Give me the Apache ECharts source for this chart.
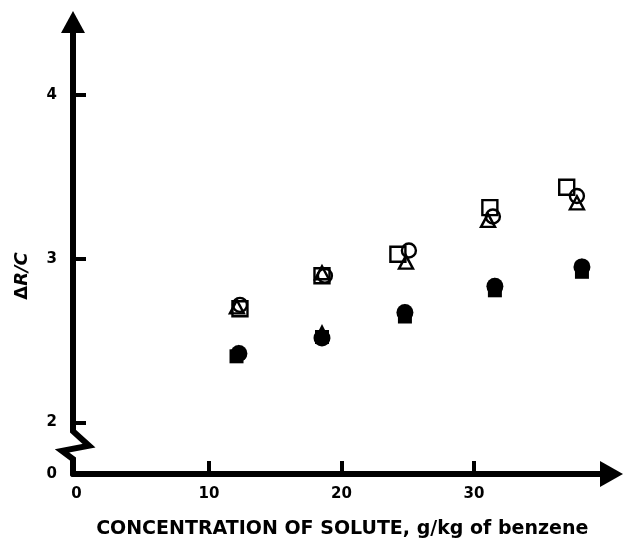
<!DOCTYPE html>
<html>
<head>
<meta charset="utf-8">
<script src="https://cdn.jsdelivr.net/npm/echarts@6/dist/echarts.min.js"></script>
<style>
html,body{margin:0;padding:0;background:#fff;}
#c{width:623px;height:544px;}
</style>
</head>
<body>
<div id="c"></div>
<script>
// Data: [concentration g/kg, ΔR/C]
const openSquare   = [[12.34, 2.694], [18.53, 2.896], [24.26, 3.027], [31.20, 3.312], [37.00, 3.436]];
const openCircle   = [[12.34, 2.718], [18.75, 2.896], [25.09, 3.050], [31.43, 3.258], [37.77, 3.383]];
const openTriangle = [[12.11, 2.706], [18.53, 2.914], [24.87, 2.979], [31.06, 3.234], [37.77, 3.341]];
const filledSquare   = [[12.08, 2.404], [18.53, 2.522], [24.79, 2.647], [31.58, 2.807], [38.15, 2.920]];
const filledCircle   = [[12.26, 2.421], [18.53, 2.516], [24.79, 2.671], [31.58, 2.831], [38.15, 2.950]];
const filledTriangle = [[12.26, 2.433], [18.53, 2.558], [24.79, 2.682], [31.58, 2.843], [38.15, 2.961]];

const xTickValues = [10, 20, 30];
const xLabelValues = [0, 10, 20, 30];
const yTickValues = [2, 3, 4];
const yBottom = 1.6855;       // axis is broken: bottom of axis is labelled 0
const yLabelValues = [yBottom, 2, 3, 4];
const xName = 'CONCENTRATION OF SOLUTE, g/kg of benzene';

const FONT = 'DejaVu Sans';
const chart = echarts.init(document.getElementById('c'), null, {renderer: 'canvas'});

const openStyle = {color: 'rgba(0,0,0,0)', borderColor: '#000', borderWidth: 2.4, opacity: 1};
const fillStyle = {color: '#000', opacity: 1};
const option = {
  animation: false,
  backgroundColor: '#fff',
  grid: {left: 73, right: 11.5, top: 22, bottom: 57},
  xAxis: {
    type: 'value', min: -0.26, max: 40.38,
    splitLine: {show: false},
    axisLine: {onZero: false, lineStyle: {color: '#000', width: 6}, symbol: ['none', 'triangle'], symbolSize: [26, 23]},
    axisTick: {inside: true, length: 13, lineStyle: {color: '#000', width: 4}, customValues: xTickValues},
    axisLabel: {customValues: xLabelValues, margin: 13, color: '#000', fontFamily: FONT, fontWeight: 'bold', fontSize: 15},
    name: xName, nameLocation: 'middle', nameGap: 46,
    nameTextStyle: {color: '#000', fontFamily: FONT, fontWeight: 'bold', fontSize: 19}
  },
  yAxis: {
    type: 'value', min: yBottom, max: 4.445,
    splitLine: {show: false},
    axisLine: {onZero: false, lineStyle: {color: '#000', width: 6}, symbol: ['none', 'triangle'], symbolSize: [24, 22]},
    axisTick: {inside: true, length: 13, lineStyle: {color: '#000', width: 4}, customValues: yTickValues},
    axisLabel: {customValues: yLabelValues, margin: 16, color: '#000', fontFamily: FONT, fontWeight: 'bold', fontSize: 15,
      formatter: v => (v < 1.9 ? '0' : String(Math.round(v)))},
    name: '{d|Δ}{i|R/C}', nameLocation: 'middle', nameRotate: 90, nameGap: 42,
    nameTextStyle: {padding: [0, 56, 0, 0], rich: {
      d: {color: '#000', fontFamily: FONT, fontWeight: 'bold', fontSize: 18},
      i: {color: '#000', fontFamily: FONT, fontWeight: 'bold', fontStyle: 'italic', fontSize: 18}
    }}
  },
  series: [
    {name: 'filled square', type: 'scatter', data: filledSquare, symbol: 'rect', symbolSize: 14, itemStyle: fillStyle},
    {name: 'filled triangle', type: 'scatter', data: filledTriangle, symbol: 'triangle', symbolSize: [14, 14], itemStyle: fillStyle},
    {name: 'filled circle', type: 'scatter', data: filledCircle, symbol: 'circle', symbolSize: 17, itemStyle: fillStyle},
    {name: 'open square', type: 'scatter', data: openSquare, symbol: 'rect', symbolSize: 15, itemStyle: openStyle},
    {name: 'open circle', type: 'scatter', data: openCircle, symbol: 'circle', symbolSize: 14, itemStyle: openStyle},
    {name: 'open triangle', type: 'scatter', data: openTriangle, symbol: 'triangle', symbolSize: [14, 13], itemStyle: openStyle}
  ]
};
chart.setOption(option);

// axis break (zig-zag) drawn between the "2" tick and the bottom of the y axis
const ax = chart.convertToPixel({xAxisIndex: 0}, -0.26);
const y2 = chart.convertToPixel({yAxisIndex: 0}, 2);
const y0 = chart.convertToPixel({yAxisIndex: 0}, yBottom);
const gap = y0 - y2;
const p = (dx, fy) => [ax + dx, y2 + gap * fy];
chart.setOption({
  graphic: [
    {type: 'rect', z: 100, shape: {x: ax - 5, y: y2 + gap * 0.16, width: 10, height: gap * 0.56}, style: {fill: '#fff'}},
    {type: 'polyline', z: 101, shape: {points: [p(0, 0.14), p(0, 0.17), p(16, 0.45), p(-11, 0.55), p(0, 0.71), p(0, 0.74)]},
      style: {stroke: '#000', lineWidth: 6, fill: null, lineJoin: 'miter'}}
  ]
});
</script>
</body>
</html>
